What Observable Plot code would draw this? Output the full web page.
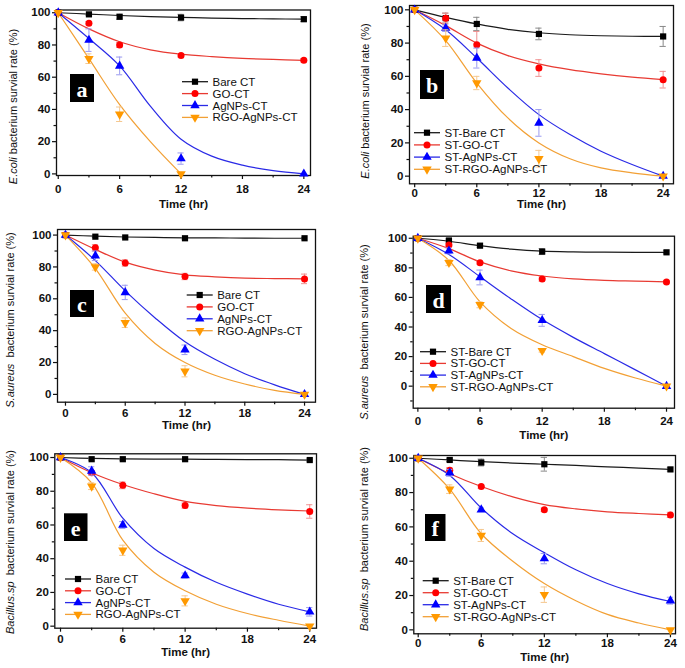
<!DOCTYPE html>
<html><head><meta charset="utf-8">
<script src="https://cdn.jsdelivr.net/npm/d3@7"></script>
<script src="https://cdn.jsdelivr.net/npm/@observablehq/plot@0.6"></script>
<style>
body{margin:0;background:#fff;}
#root{position:relative;width:685px;height:668px;overflow:hidden;background:#fff;font-family:Arial,"Liberation Sans",sans-serif;}
#root svg{position:absolute;max-width:none;overflow:visible;}
</style></head><body><div id="root"></div>
<script>
// ---------- data ----------
const times = [0, 3, 6, 12, 24];
const fitTimes = [0, 3, 6, 9, 12, 15, 18, 21, 24];
const xMajorTicks = [0, 6, 12, 18, 24];
const xMinorTicks = [3, 9, 15, 21];
const yMajorTicks = [0, 20, 40, 60, 80, 100];
const yMinorTicks = [-10, 10, 30, 50, 70, 90];
const seriesPlain = ["Bare CT", "GO-CT", "AgNPs-CT", "RGO-AgNPs-CT"];
const seriesST = ["ST-Bare CT", "ST-GO-CT", "ST-AgNPs-CT", "ST-RGO-AgNPs-CT"];
const bacteria = ["E.coli", "E.coli", "S.aureus", "S.aureus", "Bacillus.sp", "Bacillus.sp"];
const panelLetters = ["a", "b", "c", "d", "e", "f"];
const xTitle = "Time (hr)";
const yTitleRest = "bacterium survial rate (%)";

// measured points (Bare, GO, AgNPs, RGO-AgNPs) at times
const valsA = [[100, 99, 97.5, 97, 96], [100, 93.5, 80, 73.5, 70.5], [100, 83, 67, 9.5, 0], [100, 71.5, 37, 0, null]];
const valsB = [[100, 95, 91.5, 85.5, 84], [100, 95, 79, 65, 58], [100, 89, 71, 32, 0], [100, 83, 56, 10.5, 0]];
const valsC = [[100, 99, 98.5, 98, 98], [100, 92, 82.5, 74, 72.5], [100, 87, 64, 28, 0], [100, 80, 45, 14.5, 0]];
const valsD = [[100, 98.5, 95, 91, 90.5], [100, 95.5, 83.5, 72.5, 70.5], [100, 91.5, 73.5, 44.5, 0], [100, 83.5, 55, 24, 0]];
const valsE = [[100, 99, 99, 99, 98.5], [100, 91, 83.5, 71.5, 68], [100, 92, 60, 30, 8.5], [100, 83, 45, 15, 0]];
const valsF = [[100, 99, 97.5, 96.5, 93.5], [100, 93, 83.5, 70, 67], [100, 91.5, 70, 41.5, 17], [100, 82, 55, 20.5, 0]];

// error bar half-lengths
const errA = [[0, 0.5, 1.5, 2, 1.5], [0, 1, 1.5, 1, 1], [0, 7, 5.5, 3.5, 0], [0, 3, 4.5, 0, 0]];
const errB = [[0, 3, 4, 3.5, 6], [0, 3, 8, 5, 5], [0, 2, 6, 8, 0], [0, 5, 4, 5, 0]];
const errC = [[0, 0.5, 0.5, 0.5, 0.5], [0, 2, 2, 2, 3], [0, 3, 4.5, 3, 0], [0, 2, 3, 3.5, 0]];
const errD = [[0, 1, 1, 2, 1], [0, 1, 1, 1.5, 1], [0, 2, 5, 4, 0], [0, 2, 2, 1, 0]];
const errE = [[0, 0.5, 0.5, 0.5, 0.5], [0, 1, 2, 1.5, 4], [0, 2.5, 2, 1.5, 2.5], [0, 2, 3, 3, 0]];
const errF = [[0, 1, 2, 4, 1], [0, 1.5, 1, 1, 1.5], [0, 2, 1, 3, 2], [0, 2.5, 3.5, 4.5, 0]];

// fitted curves at fitTimes
const fitA = [[100, 99.2, 98.3, 97.6, 97.1, 96.7, 96.4, 96.2, 96], [100, 90, 82, 77, 74.3, 72.8, 71.7, 71, 70.5], [100, 84, 67, 42, 21.5, 11, 5.4, 2, 0], [100, 71.5, 43, 20, 0, null, null, null, null]];
const fitB = [[100, 95.5, 91.5, 88.3, 86.2, 85, 84.4, 84.1, 84], [100, 90.5, 80, 72.5, 67.5, 64, 61.5, 59.5, 58], [100, 88, 71, 53, 37, 25, 15, 7, 0], [100, 81.5, 56, 35, 20, 10.5, 5, 2, 0]];
const fitC = [[100, 99.3, 98.8, 98.5, 98.3, 98.2, 98.1, 98, 98], [100, 91, 83, 78, 75, 73.8, 73, 72.7, 72.5], [100, 84, 65, 48, 33, 22, 13, 6, 0], [100, 79, 51, 32, 20, 12, 6.5, 2.5, 0]];
const fitD = [[100, 98, 95, 92.7, 91.3, 90.8, 90.6, 90.5, 90.5], [100, 93, 84, 78, 74.5, 72.5, 71.5, 71, 70.5], [100, 89, 74, 59, 45, 33, 22, 11, 0], [100, 85, 57, 39, 28, 20, 12, 5.5, 0]];
const fitE = [[100, 99.5, 99.2, 99, 99, 98.9, 98.8, 98.7, 98.5], [100, 91, 84, 78.5, 74, 71.5, 70, 69, 68.3], [100, 91, 64, 46, 35, 26, 19, 13, 8.5], [100, 85, 51, 32, 21, 13, 7.5, 3.5, 0]];
const fitF = [[100, 99, 98, 97.2, 96.5, 95.8, 95, 94.3, 93.5], [100, 91, 83.5, 77.5, 73, 70.5, 68.8, 67.8, 67], [100, 90, 71, 56, 45, 35, 27, 21, 16.5], [100, 82, 56, 40, 27, 17, 9, 4, 0]];

// ---------- styling ----------
const sqrt3 = Math.sqrt(3);
const triangleDown = {
  draw(ctx, size) {
    const y = -Math.sqrt(size / (sqrt3 * 3));
    ctx.moveTo(0, -y * 2);
    ctx.lineTo(-sqrt3 * y, y);
    ctx.lineTo(sqrt3 * y, y);
    ctx.closePath();
  }
};
const markFill = ["#000000", "#ff0000", "#0000ff", "#ff9900"];
const lineColor = ["#1a1a1a", "#e83a32", "#2a2ae6", "#f2a035"];
const errColor = ["#888888", "#f09090", "#9a9af0", "#f5c890"];
const symbols = ["square", "circle", "triangle", triangleDown];
const d3Symbols = [d3.symbolSquare, d3.symbolCircle, d3.symbolTriangle, triangleDown];
const R = 3.5;

const panels = [
  {vals: valsA, err: errA, fit: fitA, names: seriesPlain, cell: [0, 0, 340, 215], m: [9.5, 30, 40, 56], xd: [-0.17, 24.65], yd: [-1, 101.7], tickPad: 5, labOff: 32, ylab: [13, 106.5], box: [70, 74, 24, 28], leg: [182, 81.7, 11.9]},
  {vals: valsB, err: errB, fit: fitB, names: seriesST, cell: [340, 0, 345, 215], m: [5, 12, 31.7, 69], xd: [-0.5, 25], yd: [-4.6, 102.6], tickPad: 0.8, labOff: 24, ylab: [365, 101], box: [420, 70, 24, 29], leg: [414, 132.7, 12.2]},
  {vals: valsC, err: errC, fit: fitC, names: seriesPlain, cell: [0, 215, 340, 220], m: [14, 25, 33.3, 57], xd: [-0.8, 25.1], yd: [-4.9, 103.5], tickPad: 2.5, labOff: 27, ylab: [10, 320], box: [70, 290, 24, 27], leg: [186.7, 295, 11.9]},
  {vals: valsD, err: errD, fit: fitD, names: seriesST, cell: [340, 215, 345, 220], m: [20.7, 11, 27.3, 72.7], xd: [-0.45, 24.77], yd: [-14.9, 101.4], tickPad: 4.3, labOff: 30.5, ylab: [364, 332], box: [426, 285, 25, 28], leg: [420, 351.7, 11.7]},
  {vals: valsE, err: errE, fit: fitE, names: seriesPlain, cell: [0, 435, 340, 233], m: [18.3, 24, 40.3, 54.3], xd: [-0.55, 24.65], yd: [-1.2, 102.2], tickPad: 2.3, labOff: 27.5, ylab: [10, 542], box: [64, 513.3, 23.5, 27.7], leg: [65, 579, 11.8]},
  {vals: valsF, err: errF, fit: fitF, names: seriesST, cell: [340, 435, 345, 233], m: [20, 10, 34.7, 73.3], xd: [-0.42, 24.48], yd: [-2.3, 101.6], tickPad: 1.4, labOff: 27, ylab: [364, 539], box: [425, 514, 20.5, 27], leg: [422.7, 580.7, 12]}
];

const root = document.getElementById("root");

panels.forEach((p, pi) => {
  const [cx, cy, cw, ch] = p.cell;
  const [mt, mr, mb, ml] = p.m;
  const marks = [];
  marks.push(Plot.frame({stroke: "#111", strokeWidth: 1.3}));
  marks.push(Plot.axisX({ticks: xMajorTicks, tickSize: 4, tickPadding: p.tickPad, tickFormat: d => d, label: xTitle, labelAnchor: "center", labelOffset: p.labOff, labelArrow: "none", strokeWidth: 1.2, fontSize: 11.5}));
  marks.push(Plot.axisX({ticks: xMinorTicks, tickSize: 2.5, text: null, label: null, strokeWidth: 1.2}));
  marks.push(Plot.axisY({ticks: yMajorTicks, tickSize: 4, tickPadding: 2, tickFormat: d => d, label: null, strokeWidth: 1.2, fontSize: 11.5}));
  marks.push(Plot.axisY({ticks: yMinorTicks.filter(v => v >= p.yd[0] && v <= p.yd[1]), tickSize: 2.5, text: null, label: null, strokeWidth: 1.2}));
  for (let s = 0; s < 4; s++) {
    const fitPts = fitTimes.map((t, j) => ({t, v: p.fit[s][j]})).filter(d => d.v != null);
    marks.push(Plot.line(fitPts, {x: "t", y: "v", stroke: lineColor[s], strokeWidth: 1.2, curve: "catmull-rom"}));
  }
  for (let s = 0; s < 4; s++) {
    const pts = times.map((t, j) => ({t, v: p.vals[s][j], e: p.err[s][j]})).filter(d => d.v != null);
    const ePts = pts.filter(d => d.e > 0);
    marks.push(Plot.ruleX(ePts, {x: "t", y1: d => d.v - d.e, y2: d => d.v + d.e, stroke: errColor[s], strokeWidth: 1}));
    marks.push(Plot.ruleY(ePts, {y: d => d.v + d.e, x1: d => d.t - 0.3, x2: d => d.t + 0.3, stroke: errColor[s], strokeWidth: 1}));
    marks.push(Plot.ruleY(ePts, {y: d => d.v - d.e, x1: d => d.t - 0.3, x2: d => d.t + 0.3, stroke: errColor[s], strokeWidth: 1}));
    marks.push(Plot.dot(pts, {x: "t", y: "v", symbol: symbols[s], fill: markFill[s], stroke: "none", r: R}));
  }
  const svg = Plot.plot({
    width: cw, height: ch,
    marginTop: mt, marginRight: mr, marginBottom: mb, marginLeft: ml,
    style: {fontFamily: "Arial, 'Liberation Sans', sans-serif", fontSize: "11.5px", fontWeight: "bold", color: "#111", overflow: "visible", background: "transparent"},
    x: {domain: p.xd},
    y: {domain: p.yd},
    marks
  });
  svg.style.left = cx + "px";
  svg.style.top = cy + "px";
  root.appendChild(svg);

  const g = d3.select(svg).append("g").attr("text-anchor", "start");
  // y axis title with italic species
  const yt = g.append("text")
    .attr("transform", `translate(${p.ylab[0] - cx},${p.ylab[1] - cy}) rotate(-90)`)
    .attr("text-anchor", "middle").attr("dominant-baseline", "central")
    .style("font-size", "11px").style("font-weight", "normal").style("white-space", "pre")
    .attr("fill", "#111");
  yt.append("tspan").style("font-style", "italic").text(bacteria[pi]);
  yt.append("tspan").text((pi >= 2 ? "  " : " ") + yTitleRest);

  // panel letter box
  const [bx, by, bw, bh] = p.box;
  g.append("rect").attr("x", bx - cx).attr("y", by - cy).attr("width", bw).attr("height", bh).attr("fill", "#000");
  g.append("text").attr("x", bx - cx + bw / 2).attr("y", by - cy + bh / 2 + 1)
    .attr("text-anchor", "middle").attr("dominant-baseline", "central")
    .style("font-family", "'Liberation Serif', 'Times New Roman', serif").style("font-size", "22px").style("font-weight", "bold")
    .attr("fill", "#fff").text(panelLetters[pi]);

  // legend
  const [lx, ly, ldy] = p.leg;
  const lineLen = 26;
  p.names.forEach((name, s) => {
    const yy = ly + s * ldy - cy;
    const xx = lx - cx;
    g.append("line").attr("x1", xx).attr("x2", xx + lineLen).attr("y1", yy).attr("y2", yy).attr("stroke", lineColor[s]).attr("stroke-width", 1.3);
    g.append("path").attr("transform", `translate(${xx + lineLen / 2},${yy})`).attr("d", d3.symbol(d3Symbols[s], Math.PI * R * R)()).attr("fill", markFill[s]);
    g.append("text").attr("x", xx + lineLen + 4.5).attr("y", yy).attr("text-anchor", "start").attr("dominant-baseline", "central")
      .style("font-size", "11.5px").style("font-weight", "normal").attr("fill", "#111").text(name);
  });
});
</script>
</body></html>
